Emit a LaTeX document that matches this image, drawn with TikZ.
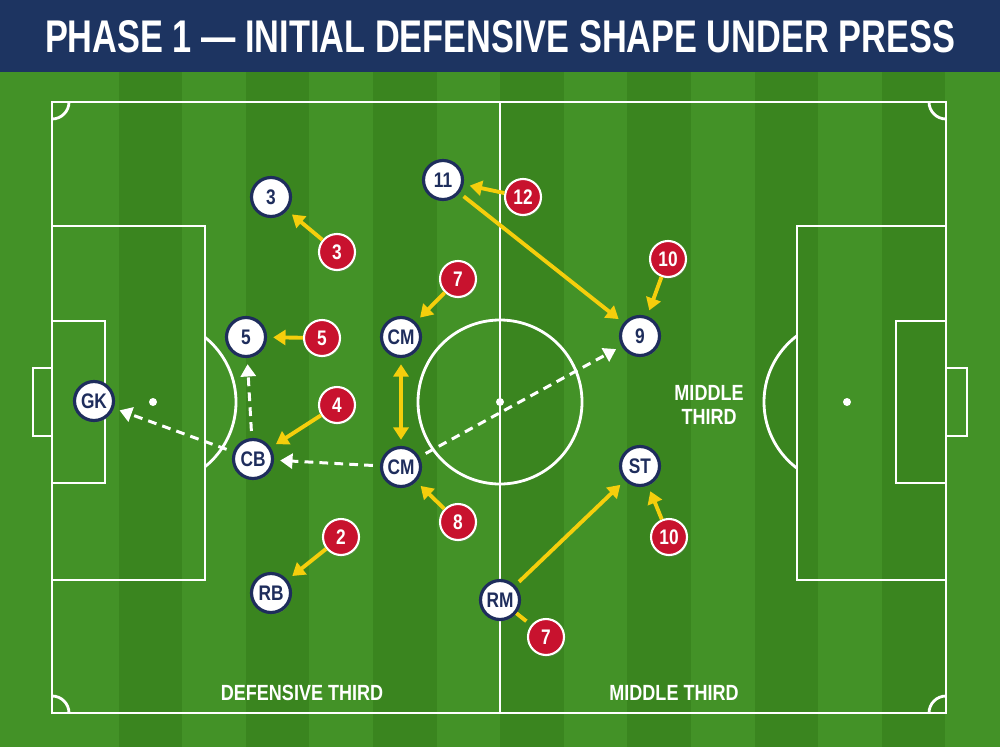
\documentclass[tikz,border=0pt]{standalone}
\usepackage{fontspec}
\setmainfont{Liberation Sans}[FakeStretch=0.82]
\usepackage{graphicx}
\usepackage{tikz}
\usetikzlibrary{arrows.meta}
\usetikzlibrary{shadows}
\usetikzlibrary{backgrounds}
\definecolor{titlenavy}{RGB}{29,52,97}
\definecolor{teamblue}{RGB}{30,45,92}
\definecolor{oppred}{RGB}{200,18,46}
\definecolor{pressyellow}{RGB}{245,206,12}
\definecolor{grasslight}{RGB}{67,146,39}
\definecolor{grassdark}{RGB}{58,133,31}

\begin{document}
\begin{tikzpicture}[x=0.02cm, y=-0.02cm, font=\bfseries,
                pitchline/.style={draw=white, line width=1.6pt},
                player/.style={circle, draw=teamblue, line width=1.8pt, fill=white, text=teamblue, minimum size=0.78cm, inner sep=0pt,
                    font=\fontsize{12}{13}\selectfont\bfseries, drop shadow={opacity=0.3, shadow xshift=0.6pt, shadow yshift=-1pt}},
                opponent/.style={circle, draw=white, line width=1.2pt, fill=oppred, text=white, minimum size=0.72cm, inner sep=0pt,
                    font=\fontsize{12}{13}\selectfont\bfseries, drop shadow={opacity=0.3, shadow xshift=0.6pt, shadow yshift=-1pt}},
                press/.style={draw=pressyellow, line width=2.2pt, -{Triangle[length=7pt,width=8.5pt]}, shorten >=3.5pt},
                pass/.style={draw=white, line width=1.7pt, dash pattern=on 5pt off 3.5pt, -{Triangle[length=7pt,width=8.5pt]},
                    shorten >=3.5pt, shorten <=4pt},
                zone/.style={text=white, font=\fontsize{12.5}{13.6}\selectfont\bfseries, align=center}
            ]
            \useasboundingbox (0,0) rectangle (1000,747);
            % grass and title bar
            \fill[grasslight] (0,72) rectangle (1000,747);
            \foreach \i in {1,3,...,13}
                \fill[grassdark] ({55+63.6*\i},72) rectangle ({55+63.6*(\i+1)},747);
            \fill[titlenavy] (0,0) rectangle (1000,72);
            \node[text=white, anchor=base] (title) at (500,52)
                {\resizebox{18.2cm}{0.64cm}{PHASE 1 — INITIAL DEFENSIVE SHAPE UNDER PRESS}};
            % pitch
            \draw[pitchline] (52,102) rectangle (946,713);
            \draw[pitchline] (500,102) -- (500,713);
            \draw[pitchline] (500,402) circle[radius=82];
            \fill[white] (500,402) circle[radius=4];
            \draw[pitchline] (52,226) rectangle (205,580);
            \draw[pitchline] (52,321) rectangle (105,483);
            \draw[pitchline] (52,368) rectangle (33,436);
            \fill[white] (153,402) circle[radius=4];
            \draw[pitchline] (946,226) rectangle (797,580);
            \draw[pitchline] (946,321) rectangle (896,483);
            \draw[pitchline] (946,368) rectangle (967,436);
            \fill[white] (847,402) circle[radius=4];
            \begin{scope}
                \clip (205,102) rectangle (797,713);
                \draw[pitchline] (153,402) circle[radius=83];
                \draw[pitchline] (847,402) circle[radius=83];
            \end{scope}
            \begin{scope}
                \clip (52,102) rectangle (946,713);
                \foreach \c in {(52,102),(946,102),(52,713),(946,713)}
                    \draw[pitchline] \c circle[radius=17];
            \end{scope}
            % zones
            \node[zone, anchor=base] (defthird) at (302,700) {DEFENSIVE THIRD};
            \node[zone, anchor=base] (midthird) at (674,700) {MIDDLE THIRD};
            \node[zone] (midlabel) at (709,405) {MIDDLE\\THIRD};
            % our team
            \node[player] (gk) at (94,401) {GK};
            \node[player] (p3) at (271,197) {3};
            \node[player] (p5) at (246,337) {5};
            \node[player] (cb) at (253,459) {CB};
            \node[player] (rb) at (271,593) {RB};
            \node[player] (cm1) at (401,337) {CM};
            \node[player] (cm2) at (401,467) {CM};
            \node[player] (p11) at (443,180) {11};
            \node[player] (p9) at (640,336) {9};
            \node[player] (st) at (640,466) {ST};
            \node[player] (rm) at (500,600) {RM};
            % pressing side
            \node[opponent] (o3) at (337,252) {3};
            \node[opponent] (o5) at (322,338) {5};
            \node[opponent] (o4) at (337,405) {4};
            \node[opponent] (o2) at (341,537) {2};
            \node[opponent] (o8) at (458,522) {8};
            \node[opponent] (o7) at (458,279) {7};
            \node[opponent] (o12) at (523,197) {12};
            \node[opponent] (o10) at (668,259) {10};
            \node[opponent] (o10b) at (669,537) {10};
            \node[opponent] (o7b) at (546,637) {7};
            % pressure
            \draw[press] (o3) -- (p3);
            \draw[press] (o5) -- (p5);
            \draw[press] (o4) -- (cb);
            \draw[press] (o2) -- (rb);
            \draw[press] (o8) -- (cm2);
            \draw[press] (o7) -- (cm1);
            \draw[press] (o12) -- (p11);
            \draw[press] (o10) -- (p9);
            \draw[press] (o10b) -- (st);
            \draw[press, {Triangle[length=7pt,width=8.5pt]}-{Triangle[length=7pt,width=8.5pt]}, shorten <=3.5pt] (cm1) -- (cm2);
            \draw[press, shorten <=3pt] (p11) -- (p9);
            \draw[press, shorten <=3pt] (rm) -- (st);
            \draw[press, -] (rm) -- (o7b);
            % passing lanes
            \draw[pass] (cm2) -- (cb);
            \draw[pass] (cb) -- (gk);
            \draw[pass] (cb) -- (p5);
            \draw[pass] (cm2) -- (p9);
        \end{tikzpicture}
\end{document}
